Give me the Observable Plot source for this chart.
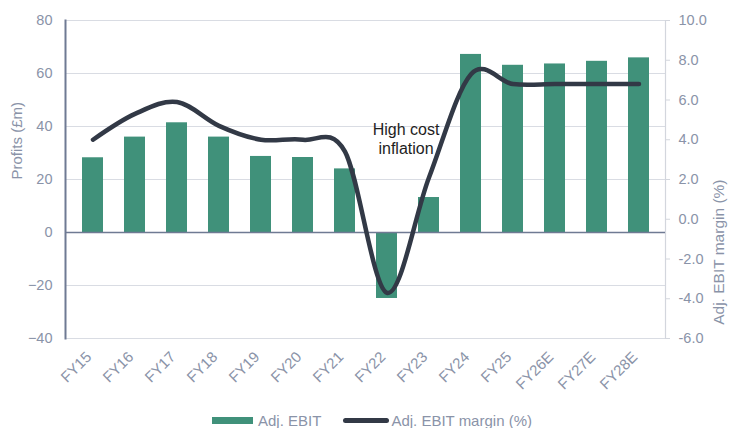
<!DOCTYPE html>
<html>
<head>
<meta charset="utf-8">
<script src="https://cdn.jsdelivr.net/npm/d3@7"></script>
<script src="https://cdn.jsdelivr.net/npm/@observablehq/plot@0.6"></script>
<style>
  html, body { margin: 0; padding: 0; background: #ffffff; }
  body { font-family: "Liberation Sans", Arial, sans-serif; width: 733px; }
  #chart svg { display: block; }
  #legend { display: flex; justify-content: center; align-items: center; height: 22px; padding-top: 5px; padding-left: 11px; color: #8a93a8; font-size: 15px; }
  .sw-bar { width: 41px; height: 7px; background: #40917a; margin-right: 5px; }
  .sw-line { width: 46px; height: 5px; border-radius: 3px; background: #323946; margin-left: 22px; margin-right: 2px; }
</style>
</head>
<body>
<div id="chart"></div>
<div id="legend">
  <span class="sw-bar"></span><span>Adj. EBIT</span>
  <span class="sw-line"></span><span>Adj. EBIT margin (%)</span>
</div>
<script>
const categories = ["FY15","FY16","FY17","FY18","FY19","FY20","FY21","FY22","FY23","FY24","FY25","FY26E","FY27E","FY28E"];
const adjEbit = [28.2, 36.0, 41.4, 36.0, 28.7, 28.3, 24.0, -24.9, 13.2, 67.2, 63.1, 63.6, 64.6, 65.9];
const ebitMargin = [4.0, 5.3, 5.9, 4.7, 4.0, 4.0, 3.4, -3.7, 2.1, 7.3, 6.8, 6.8, 6.8, 6.8];
const leftTicks = [-40, -20, 0, 20, 40, 60, 80];
const rightTicks = [-6, -4, -2, 0, 2, 4, 6, 8, 10];
const annotationText = ["High cost", "inflation"];
const annotationCategory = "FY22";
const annotationValue = 35.5;

// right axis (margin %) mapped onto left scale: -6 -> -40, 10 -> 80
const toLeft = m => -40 + (m + 6) * 7.5;
const fromLeft = v => (v + 40) / 7.5 - 6;

const rows = categories.map((c, i) => ({cat: c, ebit: adjEbit[i], margin: ebitMargin[i]}));

const textColor = "#8a93a8";

const chart = Plot.plot({
  width: 733,
  height: 404,
  marginLeft: 65,
  marginRight: 68,
  marginTop: 20,
  marginBottom: 66,
  style: {fontFamily: "'Liberation Sans', Arial, sans-serif", fontSize: "14.5px", color: textColor, background: "#ffffff"},
  x: {domain: categories, paddingInner: 0.5, paddingOuter: 0.25, label: null},
  y: {domain: [-40, 80], label: null},
  marks: [
    Plot.gridY(leftTicks.filter(t => t !== 0), {stroke: "#d9dce3", strokeOpacity: 1, strokeWidth: 1.2}),
    Plot.frame({anchor: "right", stroke: "#d3d6dd", strokeWidth: 1.2}),
    Plot.barY(rows, {x: "cat", y: "ebit", fill: "#40917a"}),
    Plot.ruleY([0], {stroke: "#6f7a93", strokeWidth: 1.5}),
    Plot.frame({anchor: "left", stroke: "#6f7a93", strokeWidth: 2}),
    Plot.line(rows, {x: "cat", y: d => toLeft(d.margin), stroke: "#323946", strokeWidth: 4.5, curve: "cardinal", tension: 0, strokeLinecap: "round", strokeLinejoin: "round"}),
    Plot.axisY(leftTicks, {anchor: "left", tickSize: 0, tickPadding: 13, label: null}),
    Plot.axisY(rightTicks.map(toLeft), {anchor: "right", tickSize: 4, tickPadding: 9, stroke: "#d3d6dd", label: null,
      tickFormat: v => { const m = Math.round(fromLeft(v) * 10) / 10; return (m === 0 ? 0 : m).toFixed(1); }}),
    Plot.axisX({tickRotate: -45, tickSize: 0, tickPadding: 8, dx: -4, dy: 8, label: null, fontSize: 15}),
    Plot.text([annotationText.join("\n")], {x: () => annotationCategory, y: () => annotationValue, text: d => d, dx: 19, fontSize: 16, fill: "#1e1e1e", lineHeight: 1.22, lineAnchor: "middle", textAnchor: "middle"}),
    Plot.text(["Profits (£m)"], {frameAnchor: "left", rotate: -90, dx: -48, text: d => d, fontSize: 15, fill: textColor}),
    Plot.text(["Adj. EBIT margin (%)"], {frameAnchor: "right", rotate: -90, dx: 54, text: d => d, fontSize: 15.5, fill: textColor})
  ]
});
document.getElementById("chart").appendChild(chart);
</script>
</body>
</html>
